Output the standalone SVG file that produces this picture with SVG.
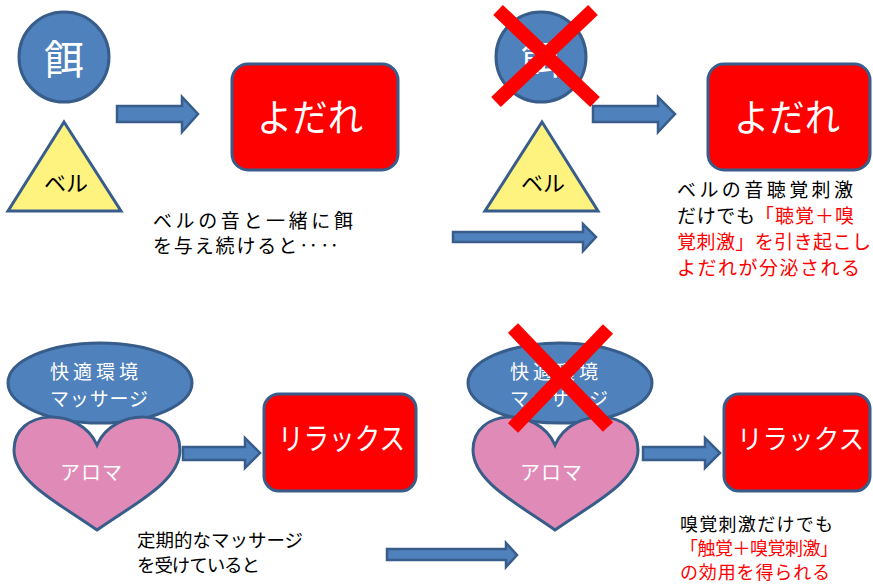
<svg xmlns="http://www.w3.org/2000/svg" width="873" height="586" viewBox="0 0 873 586">
<style>
.bg{fill:#FFFFFF}
.blue{fill:#4F81BD;stroke:#385D8A;stroke-width:3}
.tri{fill:#FFF380;stroke:#385D8A;stroke-width:3;stroke-linejoin:miter}
.heart{fill:#E08AB8;stroke:#385D8A;stroke-width:3}
.red{fill:#FF0000;stroke:#385D8A;stroke-width:3}
.arrow{fill:#4F81BD;stroke:#385D8A;stroke-width:2.5;stroke-linejoin:miter}
.x{stroke:#FF0000;stroke-width:14;stroke-linecap:butt}
text{font-family:"Noto Sans CJK JP","Noto Sans CJK SC",sans-serif}
.w{fill:#FFFFFF}
.k{fill:#000000}
.r{fill:#FF0000}
</style>
<rect class="bg" x="0" y="0" width="873" height="586"/>

<!-- Top-left panel -->
<g id="esa1">
<circle class="blue" cx="64" cy="57" r="45"/>
<text class="w" x="64" y="74" font-size="40" text-anchor="middle">餌</text>
</g>
<g id="bell1">
<polygon class="tri" points="64,122 8,211 121,211"/>
<text class="k" x="66" y="191" font-size="22" text-anchor="middle">ベル</text>
</g>
<g id="yodare1">
<rect class="red" x="232" y="64" width="166" height="106" rx="16"/>
<text class="w" x="257" y="131" font-size="38" textLength="106" lengthAdjust="spacingAndGlyphs">よだれ</text>
</g>
<g id="note1">
<text class="k" x="153" y="228" font-size="19" textLength="200" lengthAdjust="spacing">ベルの音と一緒に餌</text>
<text class="k" x="153" y="253" font-size="19" textLength="186" lengthAdjust="spacing">を与え続けると‥‥</text>
</g>

<!-- Top-right panel -->
<g id="esa2">
<circle class="blue" cx="541" cy="57" r="45"/>
<text class="w" x="541" y="74" font-size="40" text-anchor="middle">餌</text>
</g>
<g id="bell2">
<polygon class="tri" points="542,122 485,211 598,211"/>
<text class="k" x="543" y="191" font-size="22" text-anchor="middle">ベル</text>
</g>
<g id="yodare2">
<rect class="red" x="708" y="64" width="162" height="106" rx="16"/>
<text class="w" x="734" y="131" font-size="38" textLength="106" lengthAdjust="spacingAndGlyphs">よだれ</text>
</g>
<g id="note2">
<text class="k" x="677" y="197" font-size="19" textLength="176" lengthAdjust="spacing">ベルの音聴覚刺激</text>
<text class="k" x="677" y="223" font-size="19" textLength="78" lengthAdjust="spacing">だけでも</text>
<text class="r" x="755" y="223" font-size="19" textLength="99" lengthAdjust="spacing">「聴覚＋嗅</text>
<text class="r" x="677" y="249" font-size="19" textLength="194" lengthAdjust="spacing">覚刺激」を引き起こし</text>
<text class="r" x="677" y="275" font-size="19" textLength="183" lengthAdjust="spacing">よだれが分泌される</text>
</g>

<!-- Bottom-left panel -->
<g id="env1">
<ellipse class="blue" cx="100" cy="383" rx="92" ry="40"/>
<text class="w" x="50" y="379" font-size="19" textLength="88" lengthAdjust="spacing">快適環境</text>
<text class="w" x="50" y="406" font-size="19" textLength="98" lengthAdjust="spacing">マッサージ</text>
</g>
<g id="aroma1">
<path class="heart" d="M97,445 C80,406 14,408 14,450 C14,482 62,505 97,530 C132,505 180,482 180,450 C180,408 114,406 97,445 Z"/>
<text class="w" x="60" y="480" font-size="20" textLength="62" lengthAdjust="spacing">アロマ</text>
</g>
<g id="relax1">
<rect class="red" x="264" y="394" width="152" height="97" rx="15"/>
<text class="w" x="278" y="449" font-size="30" textLength="127" lengthAdjust="spacingAndGlyphs">リラックス</text>
</g>
<g id="note3">
<text class="k" x="137" y="547" font-size="18.5" textLength="166" lengthAdjust="spacing">定期的なマッサージ</text>
<text class="k" x="137" y="572" font-size="18.5" textLength="123" lengthAdjust="spacing">を受けていると</text>
</g>

<!-- Bottom-right panel -->
<g id="env2">
<ellipse class="blue" cx="560" cy="383" rx="92" ry="40"/>
<text class="w" x="510" y="379" font-size="19" textLength="88" lengthAdjust="spacing">快適環境</text>
<text class="w" x="510" y="406" font-size="19" textLength="98" lengthAdjust="spacing">マッサージ</text>
</g>
<g id="aroma2">
<path class="heart" d="M555,445 C538,406 473,408 473,450 C473,482 520,505 555,530 C590,505 638,482 638,450 C638,408 572,406 555,445 Z"/>
<text class="w" x="520" y="480" font-size="20" textLength="62" lengthAdjust="spacing">アロマ</text>
</g>
<g id="relax2">
<rect class="red" x="724" y="394" width="146" height="97" rx="15"/>
<text class="w" x="737" y="449" font-size="27" textLength="127" lengthAdjust="spacingAndGlyphs">リラックス</text>
</g>
<g id="note4">
<text class="k" x="680" y="531" font-size="18" textLength="153" lengthAdjust="spacing">嗅覚刺激だけでも</text>
<text class="r" x="680" y="555" font-size="18" textLength="158" lengthAdjust="spacing">「触覚＋嗅覚刺激」</text>
<text class="r" x="680" y="579" font-size="18" textLength="150" lengthAdjust="spacing">の効用を得られる</text>
</g>

<!-- Cross marks -->
<g id="cross1">
<line class="x" x1="498" y1="10" x2="595" y2="102"/>
<line class="x" x1="593" y1="10" x2="496" y2="102"/>
</g>
<g id="cross2">
<line class="x" x1="513" y1="328" x2="608" y2="427"/>
<line class="x" x1="608" y1="329" x2="513" y2="428"/>
</g>

<!-- Connectors -->
<g id="connectors">
<polygon class="arrow" points="117,106 182,106 182,97 198,114 182,132 182,122 117,122"/>
<polygon class="arrow" points="593,106 658,106 658,97 675,114 658,132 658,122 593,122"/>
<polygon class="arrow" points="453,232 583,232 583,224 596,237 583,251 583,242 453,242"/>
<polygon class="arrow" points="183,447 245,447 245,438 260,453 245,468 245,460 183,460"/>
<polygon class="arrow" points="643,447 705,447 705,438 720,453 705,468 705,460 643,460"/>
<polygon class="arrow" points="387,549 506,549 506,543 517,555 506,567 506,560 387,560"/>
</g>
</svg>
